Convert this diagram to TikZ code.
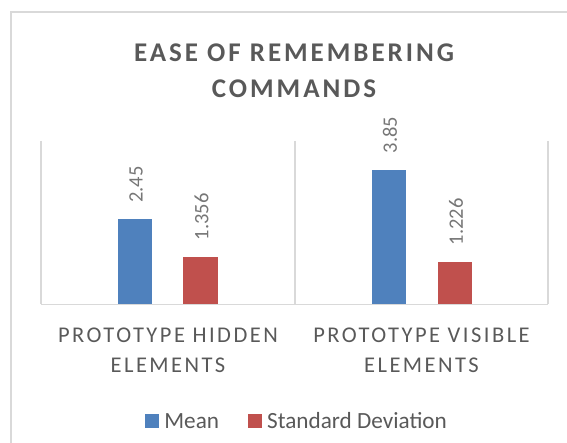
\documentclass[tikz,border=0pt]{standalone}
\usepackage{fontspec}
\setmainfont{Carlito}
\newfontfamily\titlefont[LetterSpace=11]{Carlito}
\newfontfamily\catfont[LetterSpace=11]{Carlito}
\definecolor{framegray}{HTML}{D9D9D9}
\definecolor{txtgray}{HTML}{595959}
\definecolor{lblgray}{HTML}{767676}
\definecolor{meanblue}{HTML}{4F81BD}
\definecolor{sdred}{HTML}{C0504D}
\tikzset{
  frameline/.style={draw=framegray, line width=2.5pt},
  gridline/.style={draw=framegray, line width=1.5pt},
  titletext/.style={inner sep=0pt, anchor=base, text=txtgray, font=\titlefont\bfseries\fontsize{27}{32}\selectfont},
  cattext/.style={inner sep=0pt, anchor=base, text=txtgray, font=\catfont\fontsize{22.5}{27}\selectfont},
  valtext/.style={inner sep=0pt, anchor=west, rotate=90, text=lblgray, font=\fontsize{20.5}{24}\selectfont},
  legtext/.style={inner sep=0pt, anchor=base west, text=txtgray, font=\fontsize{23.2}{28}\selectfont},
  meanbar/.style={fill=meanblue},
  sdbar/.style={fill=sdred},
}
\begin{document}
\begin{tikzpicture}[x=1pt,y=-1pt]
\useasboundingbox (0,0) rectangle (567,443);
% outer frame
\draw[frameline] (11,460) -- (11,12) -- (590,12);
% title
\node[titletext] (title1) at (294,62) {EASE OF REMEMBERING};
\node[titletext] (title2) at (294,98) {COMMANDS};
% plot area lines
\coordinate (a0) at (41,141);
\coordinate (a1) at (295,141);
\coordinate (a2) at (548,141);
\coordinate (b0) at (41,304.5);
\coordinate (b1) at (295,304.5);
\coordinate (b2) at (548,304.5);
\draw[gridline] (a0) -- (b0);
\draw[gridline] (a1) -- (b1);
\draw[gridline] (a2) -- (b2);
\draw[gridline] (b0) -- (b2);
% bars
\fill[meanbar] (117.7,304.5) rectangle (152,219.5);
\fill[sdbar] (183.3,304.5) rectangle (217.6,257.5);
\fill[meanbar] (371.7,304.5) rectangle (406,170.5);
\fill[sdbar] (437.7,304.5) rectangle (472,262.3);
% value labels
\node[valtext] (v1) at (136,203) {2.45};
\node[valtext] (v2) at (201.5,240.5) {1.356};
\node[valtext] (v3) at (390,153.5) {3.85};
\node[valtext] (v4) at (456,245.3) {1.226};
% category labels
\node[cattext] (c1a) at (168,342) {PROTOTYPE HIDDEN};
\node[cattext] (c1b) at (168,372) {ELEMENTS};
\node[cattext] (c2a) at (421.5,342) {PROTOTYPE VISIBLE};
\node[cattext] (c2b) at (421.5,372) {ELEMENTS};
% legend
\fill[meanbar] (145.4,413.5) rectangle (159,427.5);
\node[legtext] (l1) at (164.2,428) {Mean};
\fill[sdbar] (248.3,413.5) rectangle (261.8,427.5);
\node[legtext] (l2) at (267,428) {Standard Deviation};
\end{tikzpicture}
\end{document}
